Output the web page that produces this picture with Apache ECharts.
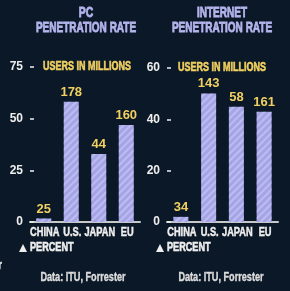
<!DOCTYPE html>
<html><head><meta charset="utf-8">
<script src="https://cdn.jsdelivr.net/npm/echarts@6/dist/echarts.min.js"></script>
<style>html,body{margin:0;padding:0;background:#0b1828;}#c{width:290px;height:291px;}</style>
</head><body><div id="c"></div>
<script>
const categories = ['CHINA', 'U.S.', 'JAPAN', 'EU'];
const pcPercent = [1.7, 58.2, 32.9, 46.9];
const pcUsers = [25, 178, 44, 160];
const netPercent = [2.0, 50.1, 44.9, 43.0];
const netUsers = [34, 143, 58, 161];
const pcTicks = {min: 0, max: 75, interval: 25};
const netTicks = {min: 0, max: 60, interval: 20};

const F = "'Liberation Sans', Arial, sans-serif";
const LAV = '#b4b4ec';
const YEL = '#f0d060';
const WHITE = '#eeeeee';

const chart = echarts.init(document.getElementById('c'), null, {renderer: 'canvas'});

function xAx(gi) {
  return {
    type: 'category', gridIndex: gi, data: categories,
    axisLine: {lineStyle: {color: '#c8c8c8', width: 2}},
    axisTick: {show: false},
    axisLabel: {show: false}
  };
}
function yAx(gi, t) {
  return {
    type: 'value', gridIndex: gi, min: t.min, max: t.max, interval: t.interval,
    axisLine: {show: false},
    axisTick: {show: true, inside: true, length: 4, lineStyle: {color: WHITE, width: 1.5}},
    splitLine: {show: false},
    axisLabel: {color: WHITE, fontFamily: F, fontWeight: 'bold', fontSize: 12, margin: 7}
  };
}
function bars(gi, vals, labels) {
  return {
    type: 'bar', xAxisIndex: gi, yAxisIndex: gi, barWidth: 15,
    data: vals.map((v, i) => ({value: v, users: labels[i]})),
    itemStyle: {
      color: '#a4a4e6',
      decal: {symbol: 'rect', symbolSize: 1, dashArrayX: [1, 0], dashArrayY: [2, 3], rotation: -Math.PI / 4, color: 'rgba(225,225,255,0.4)'}
    },
    label: {
      show: true, position: 'top', distance: 3,
      formatter: p => String(p.data.users),
      color: YEL, fontFamily: F, fontWeight: 'bold', fontSize: 13
    }
  };
}
function txt(x, y, s, color, size, align, sx, sw) {
  return {type: 'text', x: x, y: y, scaleX: sx || 1, scaleY: 1,
    style: {text: s, fill: color, stroke: color, lineWidth: sw || 0.6,
      font: 'bold ' + size + 'px ' + F, textAlign: align || 'left', textVerticalAlign: 'middle'}};
}
function tri(x, y) {
  return {type: 'polygon', shape: {points: [[x, y + 4], [x + 8, y + 4], [x + 4, y - 4]]}, style: {fill: WHITE}};
}

const baseGraphic = [
  txt(86, 13, 'PC', LAV, 14.5, 'center', 0.72, 0.8),
  txt(86, 28, 'PENETRATION RATE', LAV, 14.5, 'center', 0.69, 0.8),
  txt(222, 13, 'INTERNET', LAV, 14.5, 'center', 0.69, 0.8),
  txt(222, 28, 'PENETRATION RATE', LAV, 14.5, 'center', 0.69, 0.8),
  txt(43, 67, 'USERS IN MILLIONS', YEL, 12.5, 'left', 0.72),
  txt(178, 68, 'USERS IN MILLIONS', YEL, 12.5, 'left', 0.72),
  tri(19, 248),
  txt(30, 248, 'PERCENT', WHITE, 12.5, 'left', 0.73),
  tri(156, 248),
  txt(167, 248, 'PERCENT', WHITE, 12.5, 'left', 0.73),
  txt(83, 278, 'Data: ITU, Forrester', '#dcdcdc', 12.5, 'center', 0.73, 0.4),
  txt(221, 278, 'Data: ITU, Forrester', '#dcdcdc', 12.5, 'center', 0.73, 0.4),
  txt(-7, 266, 'er', WHITE, 12, 'left', 0.8, 0.4)
];

chart.setOption({
  backgroundColor: '#0b1828',
  animation: false,
  grid: [
    {left: 30, right: 150, top: 67, bottom: 69},
    {left: 167, right: 12, top: 68, bottom: 69}
  ],
  xAxis: [xAx(0), xAx(1)],
  yAxis: [yAx(0, pcTicks), yAx(1, netTicks)],
  series: [bars(0, pcPercent, pcUsers), bars(1, netPercent, netUsers)],
  graphic: baseGraphic
});

// category labels placed through the library's own category axes
const labelGraphic = [];
[0, 1].forEach(gi => {
  categories.forEach(c => {
    const px = chart.convertToPixel({xAxisIndex: gi}, c);
    labelGraphic.push(txt(px + 1, 233, c, WHITE, 12.5, 'center', 0.74, 0.5));
  });
});
chart.setOption({graphic: baseGraphic.concat(labelGraphic)});
</script></body></html>
